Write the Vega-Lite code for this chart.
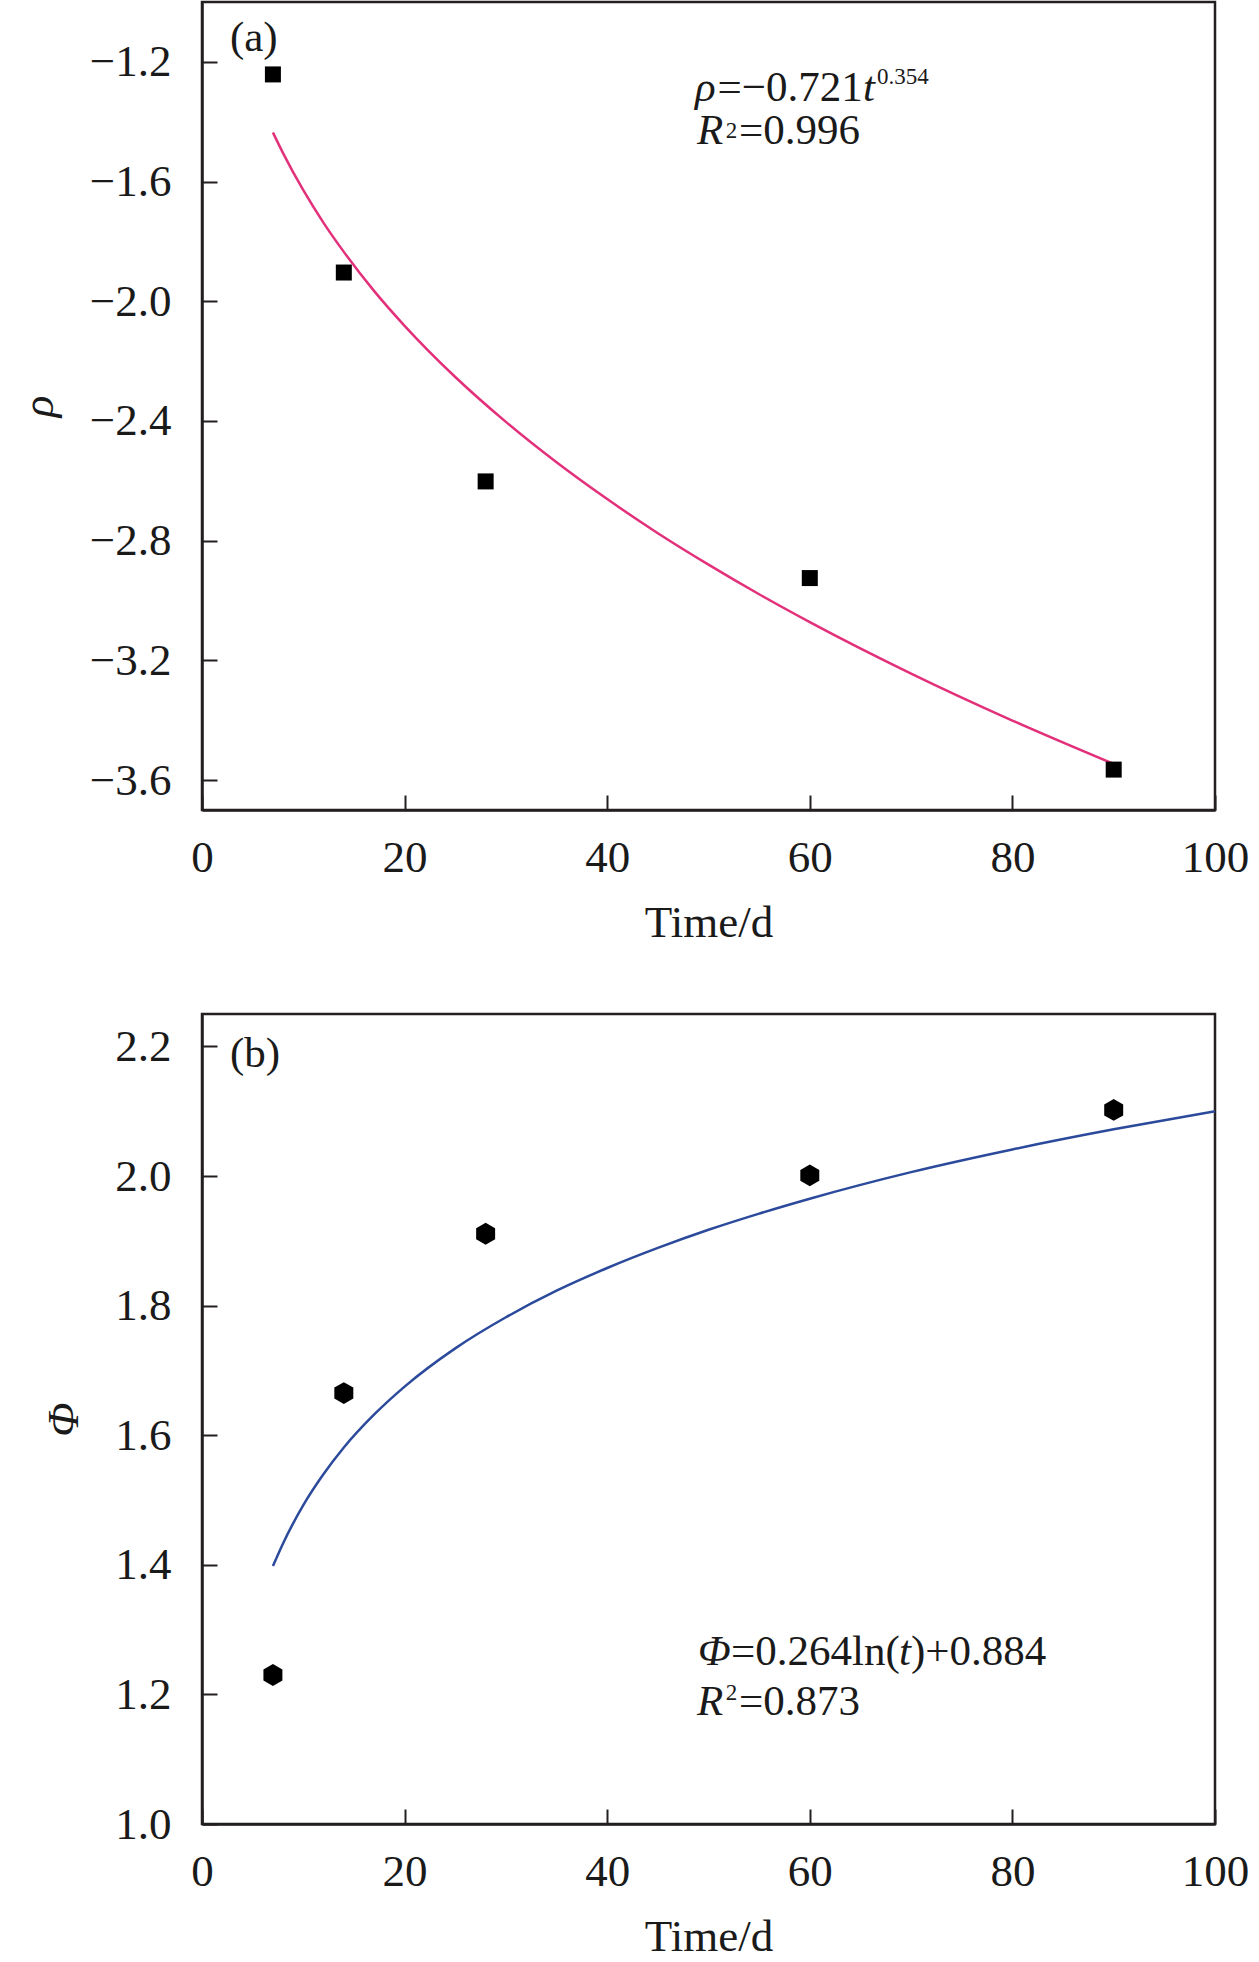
{
  "$schema": "https://vega.github.io/schema/vega-lite/v6.json",
  "background": "white",
  "padding": {"left": 15, "top": 0, "right": 5, "bottom": 0},
  "spacing": 65,
  "datasets": {
    "rho_obs": [
      {"t": 7, "v": -1.242},
      {"t": 14, "v": -1.904},
      {"t": 28, "v": -2.602},
      {"t": 60, "v": -2.925},
      {"t": 90, "v": -3.565}
    ],
    "rho_fit": [
      {"t": 7, "v": -1.436},
      {"t": 8, "v": -1.505},
      {"t": 10, "v": -1.629},
      {"t": 12, "v": -1.738},
      {"t": 14, "v": -1.835},
      {"t": 17, "v": -1.966},
      {"t": 20, "v": -2.082},
      {"t": 25, "v": -2.253},
      {"t": 30, "v": -2.403},
      {"t": 35, "v": -2.538},
      {"t": 40, "v": -2.661},
      {"t": 45, "v": -2.775},
      {"t": 50, "v": -2.88},
      {"t": 55, "v": -2.979},
      {"t": 60, "v": -3.072},
      {"t": 70, "v": -3.244},
      {"t": 80, "v": -3.401},
      {"t": 90, "v": -3.546}
    ],
    "rho_italic": [
      {"t": 48.67, "v": -1.3308, "s": "ρ"},
      {"t": 65.25, "v": -1.3308, "s": "t"},
      {"t": 48.87, "v": -1.4745, "s": "R"}
    ],
    "rho_roman": [
      {"t": 50.89, "v": -1.3308, "s": "=−0.721"},
      {"t": 53.0, "v": -1.4745, "s": "=0.996"},
      {"t": 2.76, "v": -1.1637, "s": "(a)"}
    ],
    "rho_sup": [
      {"t": 66.63, "v": -1.274, "s": "0.354"},
      {"t": 51.7, "v": -1.4545, "s": "2"}
    ],
    "phi_obs": [
      {"t": 7, "v": 1.23},
      {"t": 14, "v": 1.665},
      {"t": 28, "v": 1.911},
      {"t": 60, "v": 2.001},
      {"t": 90, "v": 2.102}
    ],
    "phi_fit": [
      {"t": 7, "v": 1.398},
      {"t": 8, "v": 1.433},
      {"t": 10, "v": 1.492},
      {"t": 12, "v": 1.54},
      {"t": 14, "v": 1.581},
      {"t": 17, "v": 1.632},
      {"t": 20, "v": 1.675},
      {"t": 25, "v": 1.734},
      {"t": 30, "v": 1.782},
      {"t": 35, "v": 1.823},
      {"t": 40, "v": 1.858},
      {"t": 45, "v": 1.889},
      {"t": 50, "v": 1.917},
      {"t": 55, "v": 1.942},
      {"t": 60, "v": 1.965},
      {"t": 70, "v": 2.006},
      {"t": 80, "v": 2.041},
      {"t": 90, "v": 2.072},
      {"t": 100, "v": 2.1}
    ],
    "phi_italic": [
      {"t": 48.96, "v": 1.2454, "s": "Φ"},
      {"t": 68.81, "v": 1.2454, "s": "t"},
      {"t": 48.87, "v": 1.1682, "s": "R"}
    ],
    "phi_roman": [
      {"t": 52.22, "v": 1.2454, "s": "=0.264ln("},
      {"t": 69.99, "v": 1.2454, "s": ")+0.884"},
      {"t": 53.0, "v": 1.1682, "s": "=0.873"},
      {"t": 2.76, "v": 2.168, "s": "(b)"}
    ],
    "phi_sup": [
      {"t": 51.7, "v": 1.1913, "s": "2"}
    ]
  },
  "vconcat": [
    {
      "width": 1013,
      "height": 808,
      "encoding": {
        "x": {
          "field": "t",
          "type": "quantitative",
          "title": "Time/d",
          "scale": {"domain": [0, 100], "nice": false},
          "axis": {"values": [0, 20, 40, 60, 80, 100], "format": "d"}
        },
        "y": {
          "field": "v",
          "type": "quantitative",
          "title": "ρ",
          "scale": {"domain": [-3.7, -1.0], "nice": false, "zero": false},
          "axis": {
            "values": [-1.2, -1.6, -2.0, -2.4, -2.8, -3.2, -3.6],
            "format": ".1f",
            "titleFontStyle": "italic"
          }
        }
      },
      "layer": [
        {
          "data": {"name": "rho_fit"},
          "mark": {"type": "line", "color": "#e3307b", "strokeWidth": 2.5, "interpolate": "monotone"}
        },
        {
          "data": {"name": "rho_obs"},
          "mark": {"type": "square", "size": 256, "color": "#000000", "filled": true, "opacity": 1}
        },
        {
          "data": {"name": "rho_italic"},
          "mark": {"type": "text", "align": "left", "baseline": "alphabetic", "fontSize": 43, "fontStyle": "italic", "color": "#1a1a1a"},
          "encoding": {"text": {"field": "s"}}
        },
        {
          "data": {"name": "rho_roman"},
          "mark": {"type": "text", "align": "left", "baseline": "alphabetic", "fontSize": 43, "color": "#1a1a1a"},
          "encoding": {"text": {"field": "s"}}
        },
        {
          "data": {"name": "rho_sup"},
          "mark": {"type": "text", "align": "left", "baseline": "alphabetic", "fontSize": 23, "color": "#1a1a1a"},
          "encoding": {"text": {"field": "s"}}
        }
      ]
    },
    {
      "width": 1013,
      "height": 810,
      "encoding": {
        "x": {
          "field": "t",
          "type": "quantitative",
          "title": "Time/d",
          "scale": {"domain": [0, 100], "nice": false},
          "axis": {"values": [0, 20, 40, 60, 80, 100], "format": "d"}
        },
        "y": {
          "field": "v",
          "type": "quantitative",
          "title": "Φ",
          "scale": {"domain": [1.0, 2.25], "nice": false, "zero": false},
          "axis": {
            "values": [1.0, 1.2, 1.4, 1.6, 1.8, 2.0, 2.2],
            "format": ".1f",
            "titleFontStyle": "italic"
          }
        }
      },
      "layer": [
        {
          "data": {"name": "phi_fit"},
          "mark": {"type": "line", "color": "#2b4a9b", "strokeWidth": 2.5, "interpolate": "monotone"}
        },
        {
          "data": {"name": "phi_obs"},
          "mark": {
            "type": "point",
            "shape": "M0,-1L0.866,-0.5L0.866,0.5L0,1L-0.866,0.5L-0.866,-0.5Z",
            "size": 480,
            "color": "#000000",
            "filled": true,
            "opacity": 1
          }
        },
        {
          "data": {"name": "phi_italic"},
          "mark": {"type": "text", "align": "left", "baseline": "alphabetic", "fontSize": 43, "fontStyle": "italic", "color": "#1a1a1a"},
          "encoding": {"text": {"field": "s"}}
        },
        {
          "data": {"name": "phi_roman"},
          "mark": {"type": "text", "align": "left", "baseline": "alphabetic", "fontSize": 43, "color": "#1a1a1a"},
          "encoding": {"text": {"field": "s"}}
        },
        {
          "data": {"name": "phi_sup"},
          "mark": {"type": "text", "align": "left", "baseline": "alphabetic", "fontSize": 23, "color": "#1a1a1a"},
          "encoding": {"text": {"field": "s"}}
        }
      ]
    }
  ],
  "config": {
    "font": "Liberation Serif",
    "view": {"stroke": "#231f20", "strokeWidth": 2.5},
    "axis": {
      "grid": false,
      "domainColor": "#231f20",
      "domainWidth": 2.5,
      "tickColor": "#231f20",
      "tickWidth": 2,
      "tickSize": -15,
      "labelFont": "Liberation Serif",
      "labelFontSize": 45,
      "labelColor": "#1a1a1a",
      "labelFlush": false,
      "labelOverlap": false,
      "titleFont": "Liberation Serif",
      "titleFontSize": 45,
      "titleFontWeight": "normal",
      "titleColor": "#1a1a1a"
    },
    "axisX": {"labelPadding": 40, "titlePadding": 20},
    "axisY": {"labelPadding": 46, "titlePadding": 28}
  }
}
